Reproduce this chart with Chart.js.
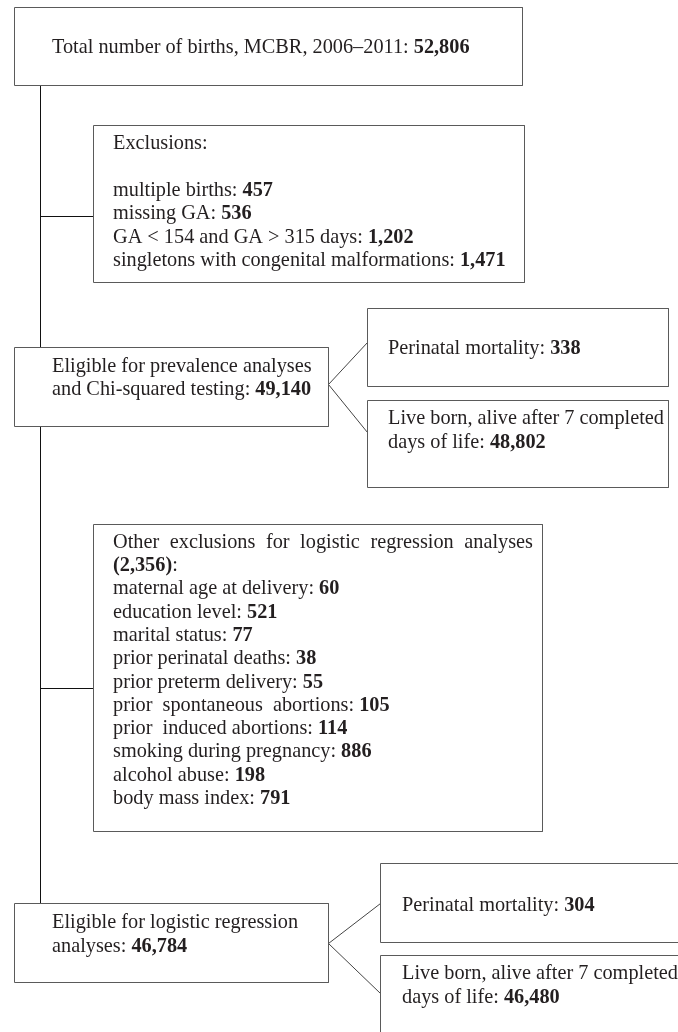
<!DOCTYPE html>
<html lang="en">
<head>
    <meta charset="UTF-8">
    <script src="https://cdn.jsdelivr.net/npm/chart.js@4.4.1/dist/chart.umd.min.js"></script>
    <title>Flow chart</title>
    <style>
        body { margin: 0; background: #fff; }
        canvas { display: block; }
    </style>
</head>
<body>
<canvas id="container" width="678" height="1032"></canvas>

<script>
    // data
    const totalLabel = 'Total number of births, MCBR, 2006\u20132011: ';
    const totalBirths = 52806;
    const exclusionLabels = ['multiple births', 'missing GA', 'GA < 154 and GA > 315 days', 'singletons with congenital malformations'];
    const exclusionCounts = [457, 536, 1202, 1471];
    const otherExclusionsTotal = 2356;
    const otherExclusionLabels = ['maternal age at delivery', 'education level', 'marital status', 'prior perinatal deaths',
        'prior preterm delivery', 'prior  spontaneous  abortions', 'prior  induced abortions',
        'smoking during pregnancy', 'alcohol abuse', 'body mass index'];
    const otherExclusionCounts = [60, 521, 77, 38, 55, 105, 114, 886, 198, 791];
    const eligibleCounts = [49140, 46784];
    const perinatalDeaths = [338, 304];
    const liveBornCounts = [48802, 46480];

    const fmt = n => n.toLocaleString('en-US');
    const plain = t => [t, false];
    const bold = t => [t, true];

    // box geometry: [left, top, right, bottom], text x and first baseline
    const blocks = [
        {box: [14, 7, 522, 85], tx: 52, y0: 53,
            lines: [[plain(totalLabel), bold(fmt(totalBirths))]]},
        {box: [93, 125, 524, 282], tx: 113, y0: 149.4,
            lines: [[plain('Exclusions:')], []].concat(
                exclusionLabels.map((l, i) => [plain(l + ': '), bold(fmt(exclusionCounts[i]))]))},
        {box: [14, 347, 328, 426], tx: 52, y0: 371.7,
            lines: [[plain('Eligible for prevalence analyses')],
                [plain('and Chi-squared testing: '), bold(fmt(eligibleCounts[0]))]]},
        {box: [367, 308, 668, 386], tx: 388, y0: 354.3,
            lines: [[plain('Perinatal mortality: '), bold(fmt(perinatalDeaths[0]))]]},
        {box: [367, 400, 668, 487], tx: 388, y0: 424.3,
            lines: [[plain('Live born, alive after 7 completed')],
                [plain('days of life: '), bold(fmt(liveBornCounts[0]))]]},
        {box: [93, 524, 542, 831], tx: 113, y0: 547.7, justify: {0: 420},
            lines: [[plain('Other exclusions for logistic regression analyses')],
                [bold('(' + fmt(otherExclusionsTotal) + ')'), plain(':')]].concat(
                otherExclusionLabels.map((l, i) => [plain(l + ': '), bold(fmt(otherExclusionCounts[i]))]))},
        {box: [14, 903, 328, 982], tx: 52, y0: 928.3,
            lines: [[plain('Eligible for logistic regression')],
                [plain('analyses: '), bold(fmt(eligibleCounts[1]))]]},
        {box: [380, 863, 690, 942], tx: 402, y0: 910.7,
            lines: [[plain('Perinatal mortality: '), bold(fmt(perinatalDeaths[1]))]]},
        {box: [380, 955, 690, 1045], tx: 402, y0: 979.3,
            lines: [[plain('Live born, alive after 7 completed')],
                [plain('days of life: '), bold(fmt(liveBornCounts[1]))]]}
    ];
    const lineStep = 23.3;

    // connectors
    const connectors = [
        {pts: [[40, 85], [40, 347]], color: '#111'},
        {pts: [[40, 426], [40, 903]], color: '#111'},
        {pts: [[40, 216], [93, 216]], color: '#111'},
        {pts: [[40, 688], [93, 688]], color: '#111'},
        {pts: [[367, 342], [328, 384], [367, 432]], color: '#444'},
        {pts: [[380, 903], [328, 943], [380, 993]], color: '#444'}
    ];

    const datasets = [];
    for (const b of blocks) {
        const [l, t, r, bt] = b.box.map(v => v + 0.5);
        datasets.push({
            data: [{x: l, y: t}, {x: r, y: t}, {x: r, y: bt}, {x: l, y: bt}, {x: l, y: t}],
            borderColor: '#5a5a5a', borderWidth: 1, showLine: true, pointRadius: 0, fill: false
        });
    }
    for (const c of connectors) {
        datasets.push({
            data: c.pts.map(p => ({x: p[0] + 0.5, y: p[1] + 0.5})),
            borderColor: c.color, borderWidth: 1, showLine: true, pointRadius: 0, fill: false
        });
    }

    const FONT = '20.3px "Liberation Serif", "Times New Roman", serif';
    const textPlugin = {
        id: 'boxText',
        afterDatasetsDraw(chart) {
            const ctx = chart.ctx;
            const xs = chart.scales.x, ys = chart.scales.y;
            ctx.save();
            ctx.fillStyle = '#231f20';
            ctx.textBaseline = 'alphabetic';
            for (const b of blocks) {
                b.lines.forEach((segs, i) => {
                    let px = xs.getPixelForValue(b.tx);
                    const py = ys.getPixelForValue(b.y0 + i * lineStep);
                    const target = b.justify && b.justify[i];
                    if (target) {
                        // justified line: spread the words over the target width
                        ctx.font = FONT;
                        const words = segs.map(s => s[0]).join('').split(' ');
                        const used = words.reduce((a, w) => a + ctx.measureText(w).width, 0);
                        const gap = (target - used) / (words.length - 1);
                        for (const w of words) {
                            ctx.fillText(w, px, py);
                            px += ctx.measureText(w).width + gap;
                        }
                        return;
                    }
                    for (const [txt, isBold] of segs) {
                        ctx.font = (isBold ? 'bold ' : '') + FONT;
                        ctx.fillText(txt, px, py);
                        px += ctx.measureText(txt).width;
                    }
                });
            }
            ctx.restore();
        }
    };

    const ctx = document.getElementById('container').getContext('2d');
    const chart = new Chart(ctx, {
        type: 'scatter',
        data: {datasets: datasets},
        options: {
            responsive: false,
            animation: false,
            layout: {padding: 0},
            plugins: {legend: {display: false}, tooltip: {enabled: false}},
            scales: {
                x: {type: 'linear', min: 0, max: 678, display: false},
                y: {type: 'linear', min: 0, max: 1032, reverse: true, display: false}
            }
        },
        plugins: [textPlugin]
    });
</script>
</body>
</html>
